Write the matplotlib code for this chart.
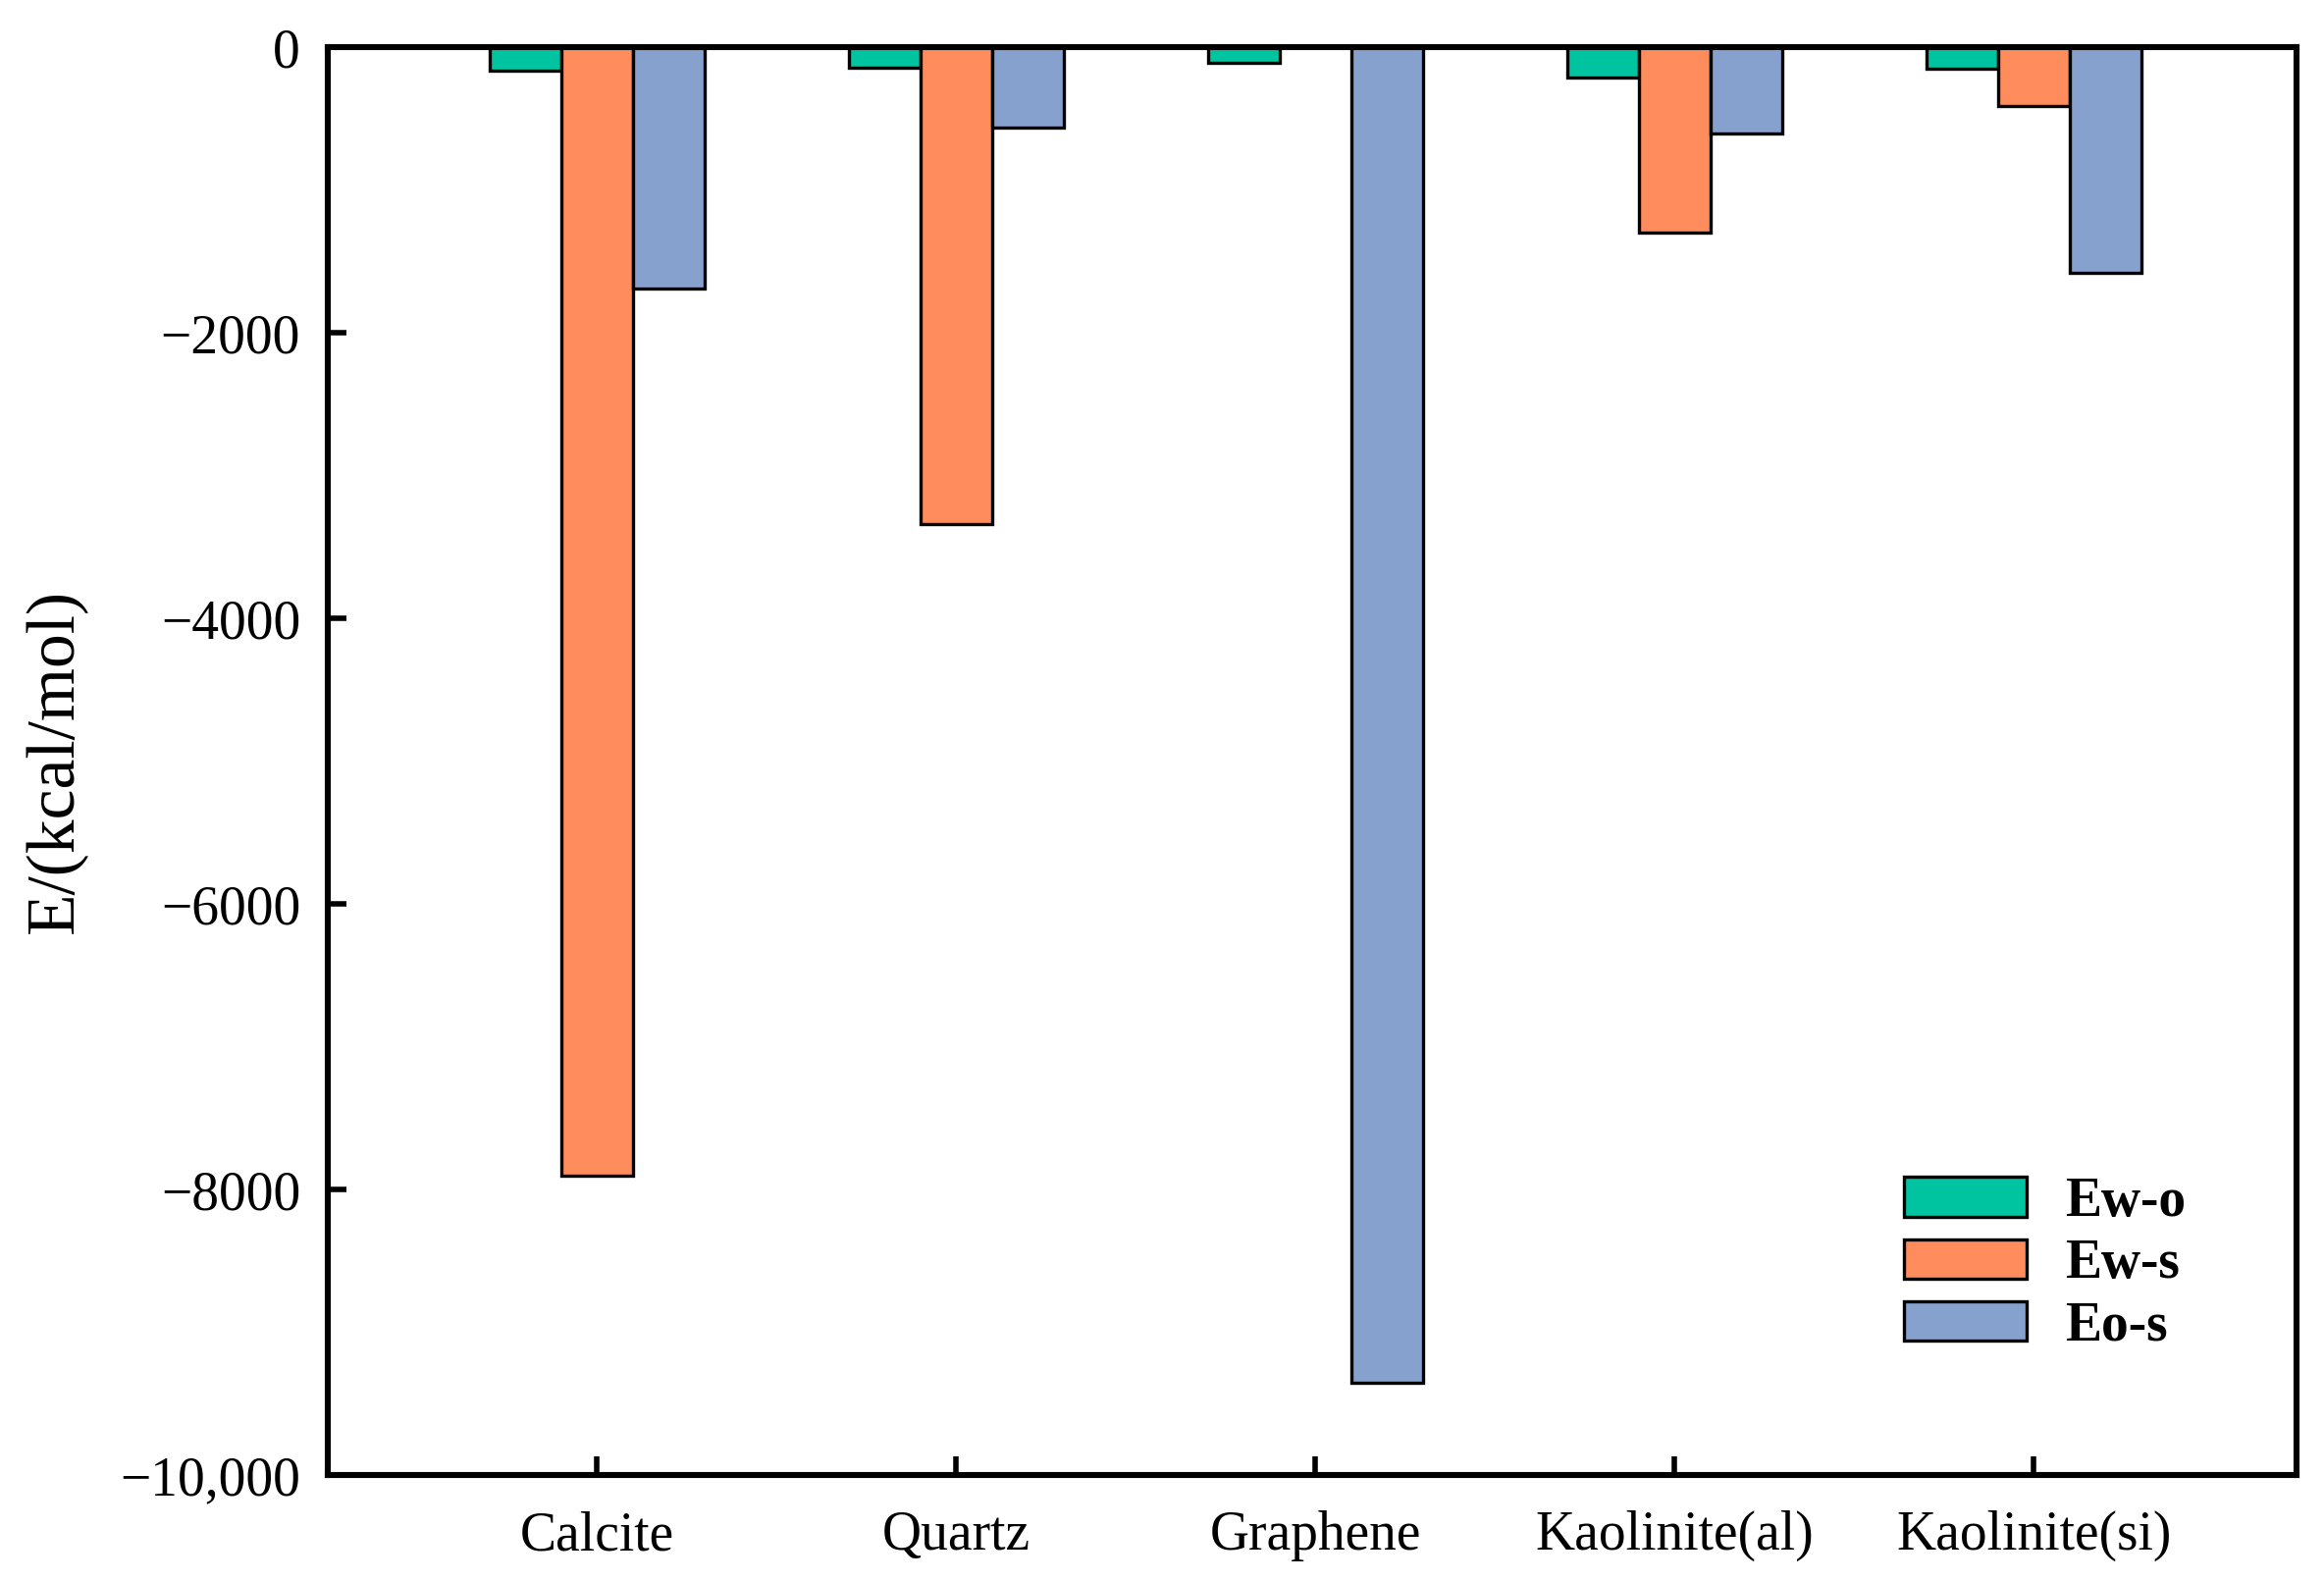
import numpy as np
import matplotlib.pyplot as plt

plt.rcParams['font.family'] = ['Liberation Serif', 'DejaVu Serif']

# data
minerals = ['Calcite', 'Quartz', 'Graphene', 'Kaolinite(al)', 'Kaolinite(si)']
ew_o = [-165, -145, -110, -210, -150]
ew_s = [-7900, -3340, 0, -1300, -410]
eo_s = [-1690, -562, -9350, -600, -1576]
series_names = ['Ew-o', 'Ew-s', 'Eo-s']
y_ticks = [0, -2000, -4000, -6000, -8000, -10000]
y_tick_labels = ['0', '\u22122000', '\u22124000', '\u22126000', '\u22128000', '\u221210,000']

colors = ['#00C4A0', '#FF8C5C', '#87A1CE']

fig = plt.figure(figsize=(11.84, 8.055), dpi=200)
ax = fig.add_axes([0.141, 0.067, 0.847, 0.903])

x = np.arange(len(minerals))
w = 0.2
for i, (vals, name) in enumerate(zip([ew_o, ew_s, eo_s], series_names)):
    ax.bar(x + (i - 1) * w, vals, width=w, color=colors[i], edgecolor='black',
           linewidth=1.2, label=name)

ax.set_xlim(-0.75, 4.73)
ax.set_ylim(-10000, 0)
ax.set_xticks(x)
ax.set_xticklabels(minerals, fontsize=20)
ax.set_yticks(y_ticks)
ax.set_yticklabels(y_tick_labels, fontsize=20)
ax.tick_params(direction='in', length=7, width=2.0, pad=10)
ax.tick_params(axis='x', pad=13)
for s in ax.spines.values():
    s.set_linewidth(2.2)

ax.set_ylabel('E/(kcal/mol)', fontsize=25, labelpad=12)

ax.legend(loc='lower left', bbox_to_anchor=(0.776, 0.052), frameon=False,
          prop={'weight': 'bold', 'size': 20}, handlelength=2.25,
          handleheight=0.75, labelspacing=0.2, handletextpad=0.7)

fig.savefig('out.png', dpi=200)
